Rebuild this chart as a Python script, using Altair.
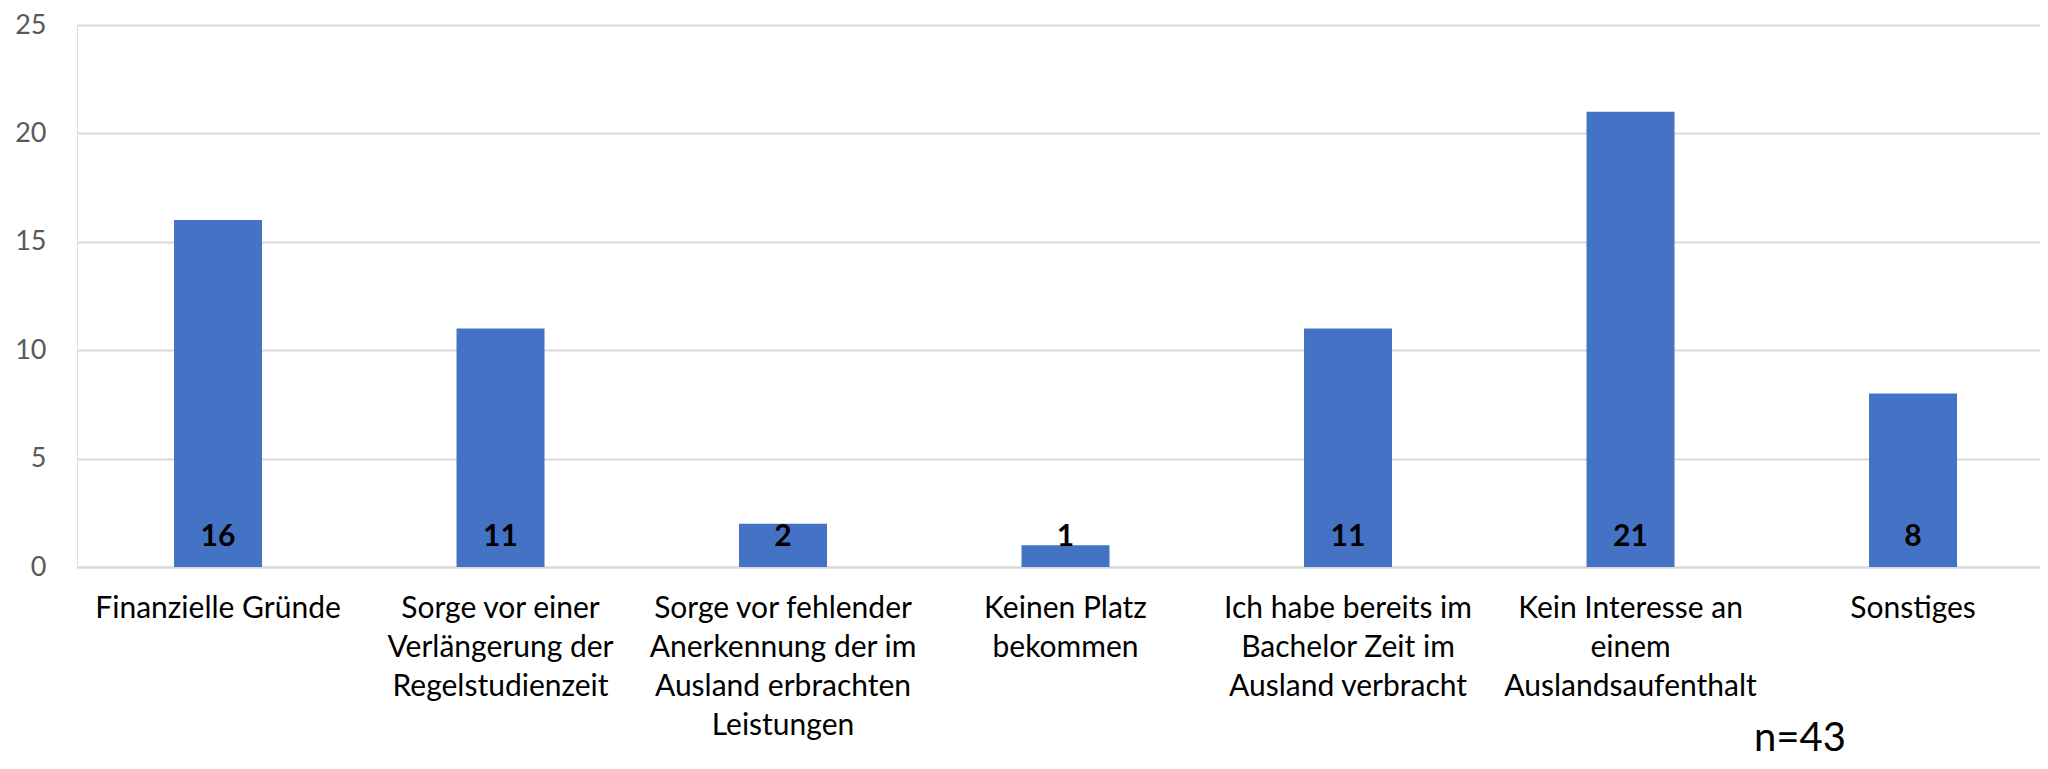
import altair as alt
import pandas as pd

categories = [
    "Finanzielle Gründe",
    "Sorge vor einer\nVerlängerung der\nRegelstudienzeit",
    "Sorge vor fehlender\nAnerkennung der im\nAusland erbrachten\nLeistungen",
    "Keinen Platz\nbekommen",
    "Ich habe bereits im\nBachelor Zeit im\nAusland verbracht",
    "Kein Interesse an\neinem\nAuslandsaufenthalt",
    "Sonstiges",
]
values = [16, 11, 2, 1, 11, 21, 8]
y_ticks = [0, 5, 10, 15, 20, 25]
note = "n=43"

df = pd.DataFrame({"cat": categories, "val": values})

FONT = "Lato"

x_enc = alt.X(
    "cat:N",
    sort=categories,
    scale=alt.Scale(paddingInner=0.6885, paddingOuter=0.3186, align=0.539),
    axis=alt.Axis(
        title=None,
        labelAngle=0,
        labelExpr="split(datum.value, '\\n')",
        labelFont=FONT,
        labelFontSize=30,
        labelColor="#000000",
        labelLineHeight=39,
        labelBaseline="top",
        labelPadding=26,
        labelLimit=400,
        ticks=False,
        domain=True,
        domainColor="#d9d9d9",
        domainWidth=2,
        grid=False,
    ),
)

bars = alt.Chart(df).mark_bar(color="#4472C4").encode(
    x=x_enc,
    y=alt.Y(
        "val:Q",
        scale=alt.Scale(domain=[0, 25], nice=False),
        axis=alt.Axis(
            title=None,
            values=y_ticks,
            labelFont=FONT,
            labelFontSize=27,
            labelColor="#595959",
            labelPadding=31,
            ticks=False,
            domain=False,
            grid=True,
            gridColor="#d9d9d9",
            gridWidth=2,
        ),
    ),
)

labels = alt.Chart(df).mark_text(
    font=FONT, fontSize=30, fontWeight="bold", color="#000000",
    baseline="middle", align="center", dy=-30,
).encode(
    x=alt.X("cat:N", sort=categories),
    y=alt.datum(0),
    text=alt.Text("val:Q"),
)

note_layer = alt.Chart(pd.DataFrame({"t": [note]})).mark_text(
    font=FONT, fontSize=40, color="#000000", align="center", baseline="middle",
).encode(
    x=alt.value(1723),
    y=alt.value(714),
    text="t:N",
)

chart = alt.layer(bars, labels, note_layer).properties(
    width=1963,
    height=542,
    autosize=alt.AutoSizeParams(type="none"),
    padding={"left": 69, "top": 17, "right": 0, "bottom": 194},
).configure_view(stroke=None).configure(background="white")

chart.save("out.html", embed_options={"renderer": "svg", "actions": False})
